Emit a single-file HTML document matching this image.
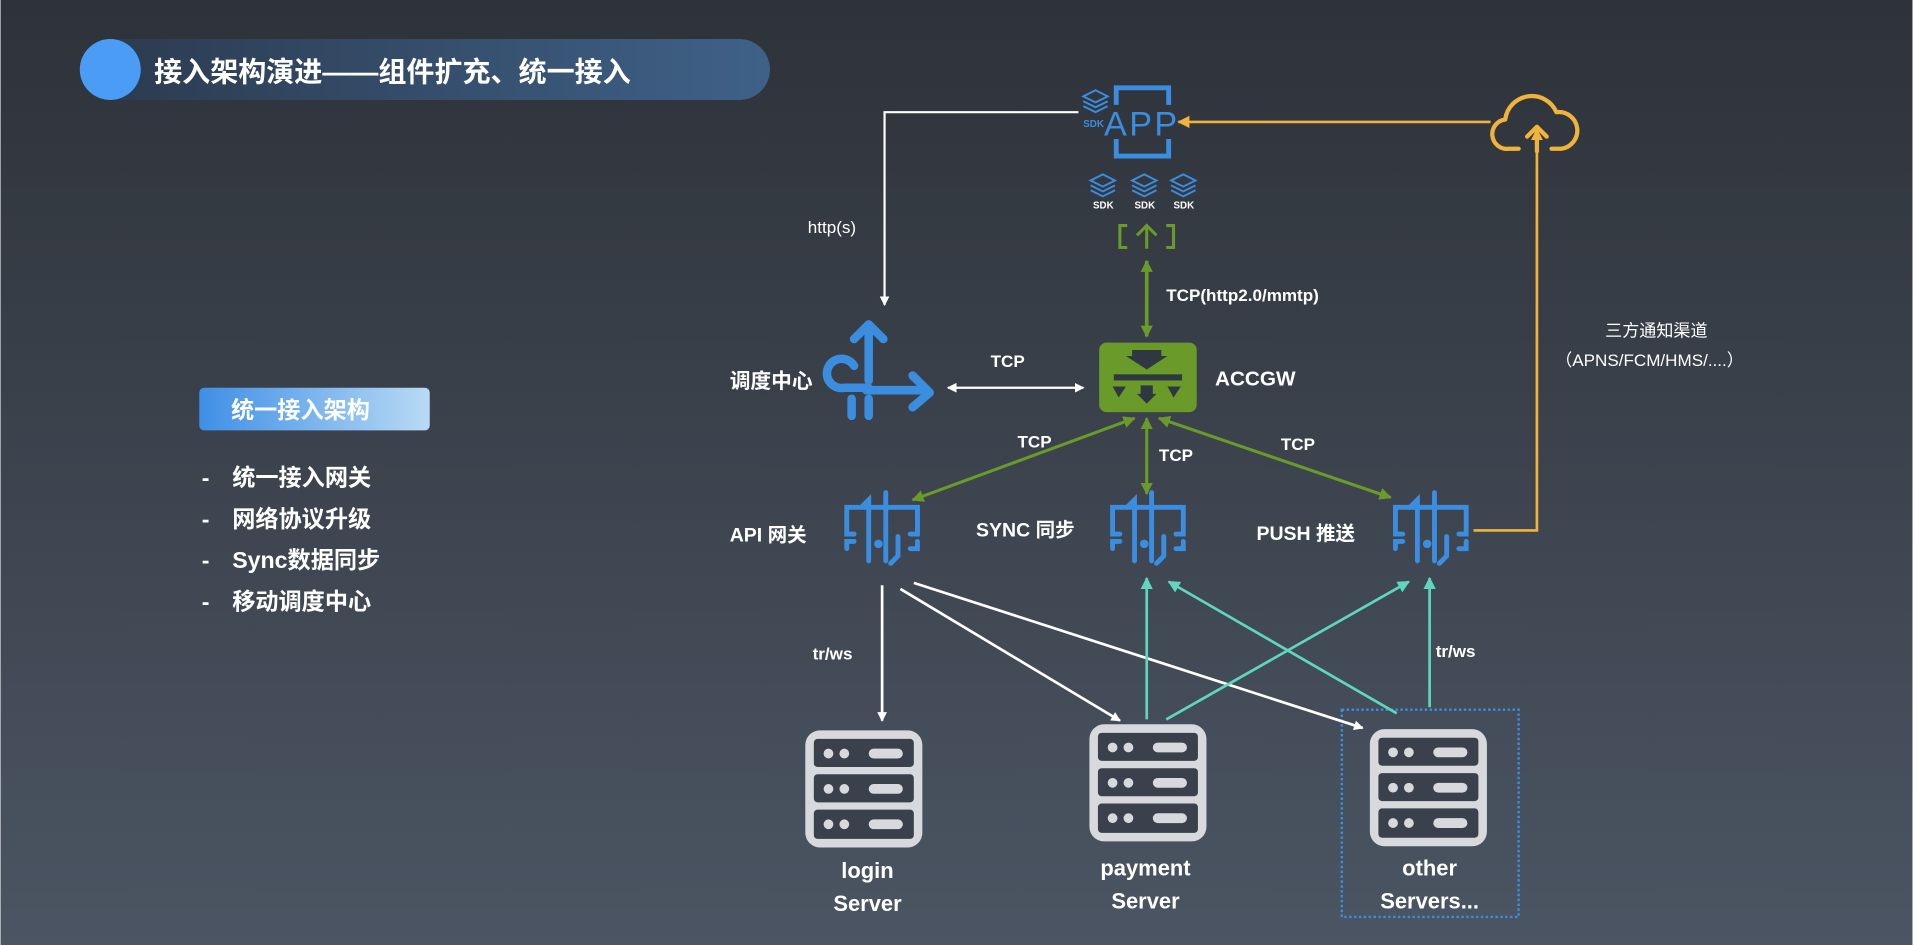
<!DOCTYPE html>
<html><head><meta charset="utf-8"><style>
html,body{margin:0;padding:0;width:1913px;height:945px;overflow:hidden}
svg{display:block}
text{font-family:"Liberation Sans","Noto Sans CJK SC",sans-serif;fill:#fff;font-weight:bold}
</style></head><body>
<svg width="1913" height="945" viewBox="0 0 1568 775" xmlns="http://www.w3.org/2000/svg">
<defs>
<linearGradient id="bg" x1="0" y1="0" x2="0" y2="1"><stop offset="0" stop-color="#2e3239"/><stop offset="1" stop-color="#4b5563"/></linearGradient>
<linearGradient id="pill" x1="0" y1="0" x2="1" y2="0"><stop offset="0" stop-color="#2b3a4e"/><stop offset="1" stop-color="#3f6188"/></linearGradient>
<linearGradient id="box" x1="0" y1="0" x2="1" y2="0"><stop offset="0" stop-color="#3f8fe6"/><stop offset="1" stop-color="#b9daf5"/></linearGradient>
<marker id="aw" markerWidth="8" markerHeight="8" refX="7" refY="4" orient="auto-start-reverse" markerUnits="userSpaceOnUse"><path d="M0,0 L8,4 L0,8z" fill="#fff"/></marker>
<marker id="ag" markerWidth="10" markerHeight="10" refX="9" refY="5" orient="auto-start-reverse" markerUnits="userSpaceOnUse"><path d="M0,0 L10,5 L0,10z" fill="#6a9a2a"/></marker>
<marker id="at" markerWidth="10" markerHeight="10" refX="9" refY="5" orient="auto-start-reverse" markerUnits="userSpaceOnUse"><path d="M0,0 L10,5 L0,10z" fill="#5fd6bd"/></marker>
<marker id="ay" markerWidth="10" markerHeight="10" refX="9" refY="5" orient="auto-start-reverse" markerUnits="userSpaceOnUse"><path d="M0,0 L10,5 L0,10z" fill="#f0b43c"/></marker>
<g id="gw" fill="none" stroke="#3b8de0" stroke-width="4" stroke-linecap="round">
<path d="M10,38 H4 V16 H62 V38 H56"/>
<path d="M10,44 H4 V50 M62,44 V50 H56"/>
<path d="M22,60 V10 L16,16 M36,4 V60 M46,40 V56 L40,62"/>
<circle cx="30" cy="46" r="1.5" fill="#3b8de0"/>
</g>
<g id="srv">
<rect x="0" y="0" width="96" height="96" rx="12" fill="#d7d9dc"/>
<g fill="#3a414c"><rect x="7" y="7" width="82" height="23" rx="3"/><rect x="7" y="36" width="82" height="23" rx="3"/><rect x="7" y="65" width="82" height="24" rx="3"/></g>
<g fill="#d7d9dc"><circle cx="19" cy="19" r="4"/><circle cx="32" cy="19" r="4"/><rect x="52" y="15" width="28" height="8" rx="4"/>
<circle cx="19" cy="48" r="4"/><circle cx="32" cy="48" r="4"/><rect x="52" y="44" width="28" height="8" rx="4"/>
<circle cx="19" cy="77" r="4"/><circle cx="32" cy="77" r="4"/><rect x="52" y="73" width="28" height="8" rx="4"/></g>
</g>
<g id="sdk" fill="none" stroke="#3b8de0" stroke-width="1.6"><path d="M0,6 L10,1 L20,6 L10,11z M0,10 L10,15 L20,10 M0,14 L10,19 L20,14"/></g>
</defs>
<rect width="1568" height="775" fill="url(#bg)"/>
<rect x="65" y="32" width="566" height="50" rx="25" fill="url(#pill)"/>
<circle cx="90" cy="57" r="25" fill="#4a9cf5"/>
<text x="126" y="67" font-size="23">接入架构演进——组件扩充、统一接入</text>
<rect x="163" y="318" width="189" height="35" rx="4" fill="url(#box)"/>
<text x="189" y="343" font-size="19">统一接入架构</text>
<g font-size="19"><text x="165" y="398">-</text><text x="165" y="432">-</text><text x="165" y="466">-</text><text x="165" y="500">-</text>
<text x="190" y="398">统一接入网关</text><text x="190" y="432">网络协议升级</text><text x="190" y="466">Sync数据同步</text><text x="190" y="500">移动调度中心</text></g>
<!-- APP -->
<g fill="none" stroke="#3b8de0" stroke-width="4"><path d="M915,86 V72 H958 V86 M915,114 V128 H958 V114"/></g>
<text x="936" y="111" font-size="28" text-anchor="middle" letter-spacing="2" style="fill:#3b8de0;font-weight:normal">APP</text>
<use href="#sdk" x="888" y="73"/><text x="888" y="104" font-size="8" style="fill:#3b8de0">SDK</text>
<use href="#sdk" x="894" y="142"/><use href="#sdk" x="928" y="142"/><use href="#sdk" x="960" y="142"/>
<g font-size="8" style="fill:#3b8de0"><text x="896" y="171">SDK</text><text x="930" y="171">SDK</text><text x="962" y="171">SDK</text></g>
<g fill="none" stroke="#6a9a2a" stroke-width="2.5"><path d="M924,185 H918 V203 H924 M956,185 H962 V203 H956 M940,204 V186 M932,193 L940,185 L948,193"/></g>
<line x1="940" y1="214" x2="940" y2="276" stroke="#6a9a2a" stroke-width="3" marker-start="url(#ag)" marker-end="url(#ag)"/>
<text x="956" y="247" font-size="14">TCP(http2.0/mmtp)</text>
<!-- ACCGW -->
<rect x="901" y="281" width="80" height="57" rx="6" fill="#6a9a2a"/>
<g fill="#2f3840"><path d="M928,287 H952 V292 H957 L940,303 L923,292 H928z"/><rect x="913" y="307" width="56" height="5"/><path d="M912,317 H923 L917,326z M935,316 H945 V323 H948 L940,331 L932,323 H935z M957,317 H968 L962,326z"/></g>
<text x="996" y="316" font-size="17">ACCGW</text>
<!-- 调度中心 -->
<text x="598" y="318" font-size="17">调度中心</text>
<g fill="none" stroke="#3b8de0" stroke-width="7" stroke-linecap="round" stroke-linejoin="round">
<path d="M710,320 H760 M748,308 L762,322 L748,334"/>
<path d="M712,266 V312 M700,278 L712,266 L724,278"/>
<path d="M712,318 H692 A12,12 0 1 1 700,300"/>
<path d="M698,327 V341 M712,327 V341"/>
</g>
<line x1="777" y1="318" x2="888" y2="318" stroke="#fff" stroke-width="1.8" marker-start="url(#aw)" marker-end="url(#aw)"/>
<text x="812" y="301" font-size="14">TCP</text>
<!-- http -->
<polyline points="884,92 725,92 725,250" fill="none" stroke="#fff" stroke-width="1.8" marker-end="url(#aw)"/>
<text x="662" y="191" font-size="14" style="font-weight:normal">http(s)</text>
<!-- gateways -->
<use href="#gw" x="690" y="400"/><use href="#gw" x="908" y="400"/><use href="#gw" x="1140" y="400"/>
<g font-size="16"><text x="598" y="444">API 网关</text><text x="800" y="440">SYNC 同步</text><text x="1030" y="443">PUSH 推送</text></g>
<g stroke="#6a9a2a" stroke-width="2.5"><line x1="930" y1="343" x2="748" y2="410" marker-start="url(#ag)" marker-end="url(#ag)"/><line x1="940" y1="343" x2="940" y2="405" marker-start="url(#ag)" marker-end="url(#ag)"/><line x1="950" y1="343" x2="1140" y2="408" marker-start="url(#ag)" marker-end="url(#ag)"/></g>
<g font-size="14"><text x="834" y="367">TCP</text><text x="950" y="378">TCP</text><text x="1050" y="369">TCP</text></g>
<!-- yellow -->
<polyline points="1208,435 1260,435 1260,106" fill="none" stroke="#f0b43c" stroke-width="2.2" marker-end="url(#ay)"/>
<line x1="1222" y1="100" x2="966" y2="100" stroke="#f0b43c" stroke-width="2.2" marker-end="url(#ay)"/>
<g fill="none" stroke="#f0b43c" stroke-width="3.5" stroke-linecap="round" stroke-linejoin="round"><path d="M1245,122 H1237 A12,12 0 0 1 1234,98 A22,22 0 0 1 1276,92 A14,14 0 0 1 1280,122 H1272"/><path d="M1260,124 V106 M1252,112 L1260,104 L1268,112"/></g>
<text x="1316" y="276" font-size="14" style="font-weight:normal">三方通知渠道</text>
<text x="1275" y="300" font-size="14" style="font-weight:normal">（APNS/FCM/HMS/....）</text>
<!-- servers -->
<rect x="1100" y="582" width="145" height="170" fill="none" stroke="#3b8de0" stroke-width="2" stroke-dasharray="2,2"/>
<g stroke="#fff" stroke-width="2.2"><line x1="723" y1="480" x2="723" y2="591" marker-end="url(#aw)"/><line x1="738" y1="483" x2="918" y2="591" marker-end="url(#aw)"/><line x1="749" y1="478" x2="1117" y2="597" marker-end="url(#aw)"/></g>
<g stroke="#5fd6bd" stroke-width="2.2"><line x1="940" y1="590" x2="940" y2="474" marker-end="url(#at)"/><line x1="956" y1="590" x2="1155" y2="477" marker-end="url(#at)"/><line x1="1145" y1="585" x2="958" y2="477" marker-end="url(#at)"/><line x1="1172" y1="580" x2="1172" y2="474" marker-end="url(#at)"/></g>
<g font-size="14" style="font-weight:normal"><text x="666" y="541">tr/ws</text><text x="1177" y="539">tr/ws</text></g>
<use href="#srv" x="660" y="599"/><use href="#srv" x="893" y="594"/><use href="#srv" x="1123" y="598"/>
<g font-size="18" text-anchor="middle"><text x="711" y="720">login</text><text x="711" y="747">Server</text><text x="939" y="718">payment</text><text x="939" y="745">Server</text><text x="1172" y="718">other</text><text x="1172" y="745">Servers...</text></g>
</svg>
</body></html>
